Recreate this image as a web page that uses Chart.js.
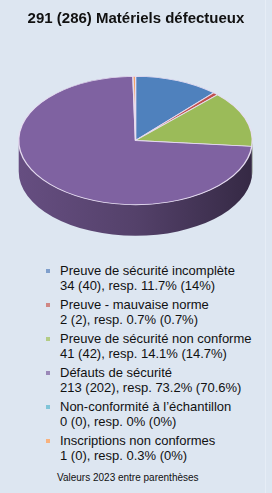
<!DOCTYPE html>
<html>
<head>
<meta charset="utf-8">
<script src="https://cdn.jsdelivr.net/npm/chart.js@4.4.0/dist/chart.umd.min.js"></script>
<style>
  html, body { margin: 0; padding: 0; }
  body { width: 272px; height: 493px; background: #dde6f1; position: relative; overflow: hidden;
         font-family: "Liberation Sans", Arial, sans-serif; color: #111; }
  #edge { position: absolute; left: 265px; top: 0; width: 1px; height: 493px; background: #e6edf6; }
  #title { position: absolute; top: 9px; left: 0; width: 272px; text-align: center;
           font-weight: bold; font-size: 15px; line-height: 18px; z-index: 2; }
  #pie { position: absolute; left: 0; top: 23px; }
  #legend { position: absolute; left: 46px; top: 263px; }
  .item { position: relative; padding-left: 14px; font-size: 13px; line-height: 15px; margin-bottom: 4px; }
  .item i { position: absolute; left: 0; top: 6px; width: 4px; height: 4px; }
  #note { position: absolute; left: 57px; top: 471px; font-size: 10px; line-height: 14px; }
</style>
</head>
<body>
<div id="edge"></div>
<div id="title"></div>
<canvas id="pie" width="272" height="235"></canvas>
<div id="legend"></div>
<div id="note">Valeurs 2023 entre parenthèses</div>
<script>
// data
const labels = ["Preuve de sécurité incomplète", "Preuve - mauvaise norme", "Preuve de sécurité non conforme",
                "Défauts de sécurité", "Non-conformité à l’échantillon", "Inscriptions non conformes"];
const values2024 = [34, 2, 41, 213, 0, 1];
const values2023 = [40, 2, 42, 202, 0, 0];
const pct2024 = [11.7, 0.7, 14.1, 73.2, 0, 0.3];
const pct2023 = [14, 0.7, 14.7, 70.6, 0, 0];
const colors = ["#4f81bd", "#c0504d", "#9bbb59", "#7f62a1", "#4bacc6", "#f79646"];
const markColors = ["#7f9fcc", "#d08784", "#b3cc85", "#9a88b8", "#7fc4d8", "#f8b27e"];

const sum = arr => arr.reduce((a, b) => a + b, 0);
document.getElementById("title").textContent =
  sum(values2024) + " (" + sum(values2023) + ") Matériels défectueux";

// html legend
const legend = document.getElementById("legend");
labels.forEach((lab, i) => {
  const d = document.createElement("div");
  d.className = "item";
  d.innerHTML = '<i style="background:' + markColors[i] + '"></i>' + lab + "<br>" +
    values2024[i] + " (" + values2023[i] + "), resp. " + pct2024[i] + "% (" + pct2023[i] + "%)";
  legend.appendChild(d);
});

// squash the pie into an ellipse and add a side band
const tilt = 0.55;
const depth = 31;

function shade(hex, f) {
  let n = parseInt(hex.slice(1), 16);
  let r = Math.round(((n >> 16) & 255) * f), g = Math.round(((n >> 8) & 255) * f), b = Math.round((n & 255) * f);
  return "rgb(" + r + "," + g + "," + b + ")";
}

const pie3d = {
  id: "pie3d",
  beforeDatasetsDraw(chart) {
    const ctx = chart.ctx;
    const meta = chart.getDatasetMeta(0);
    meta.data.forEach((arc, i) => {
      const p = arc.getProps(["x", "y", "startAngle", "endAngle", "outerRadius"], true);
      let a0 = Math.max(p.startAngle, 0), a1 = Math.min(p.endAngle, Math.PI);
      if (a1 <= a0) return;
      const rx = p.outerRadius, ry = p.outerRadius * tilt, cx = p.x, cy = p.y;
      const grad = ctx.createLinearGradient(cx - rx, 0, cx + rx, 0);
      grad.addColorStop(0, shade(colors[i], 0.8));
      grad.addColorStop(0.5, shade(colors[i], 0.66));
      grad.addColorStop(1, shade(colors[i], 0.42));
      ctx.save();
      ctx.beginPath();
      ctx.ellipse(cx, cy, rx, ry, 0, a0, a1, false);
      ctx.ellipse(cx, cy + depth, rx, ry, 0, a1, a0, true);
      ctx.closePath();
      ctx.fillStyle = grad;
      ctx.fill();
      ctx.restore();
    });
    const first = meta.data[0];
    ctx.save();
    ctx.translate(first.x, first.y);
    ctx.scale(1, tilt);
    ctx.translate(-first.x, -first.y);
  },
  afterDatasetsDraw(chart) {
    chart.ctx.restore();
  }
};

new Chart(document.getElementById("pie"), {
  type: "pie",
  data: {
    labels: labels,
    datasets: [{
      data: values2024,
      backgroundColor: colors,
      borderColor: "rgba(232,222,242,0.95)",
      borderWidth: 1.4
    }]
  },
  options: {
    responsive: false,
    animation: false,
    devicePixelRatio: 1,
    layout: { padding: { left: 18, right: 19, top: 0, bottom: 0 } },
    plugins: { legend: { display: false }, tooltip: { enabled: false }, title: { display: false } }
  },
  plugins: [pie3d]
});
</script>
</body>
</html>
